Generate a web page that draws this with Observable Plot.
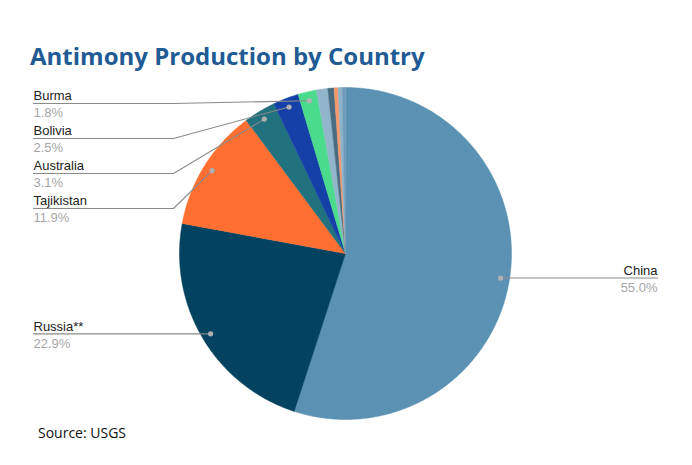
<!DOCTYPE html>
<html><head><meta charset="utf-8">
<script src="https://cdn.jsdelivr.net/npm/d3@7"></script>
<script src="https://cdn.jsdelivr.net/npm/@observablehq/plot@0.6"></script>
<style>
html,body{margin:0;padding:0;background:#fff;}
#title{height:75px;box-sizing:border-box;padding:41px 0 0 30px;font:700 24px/30px "Open Sans";color:#1f5b94;white-space:nowrap;}
#chart svg{display:block;}
#caption{height:45px;box-sizing:border-box;padding:3px 0 0 38px;font:14px/20px "Open Sans";color:#111;}
</style></head><body>
<div id="title">Antimony Production by Country</div>
<div id="chart"></div>
<div id="caption">Source: USGS</div>
<script>
// Data
const countries = ["China","Russia**","Tajikistan","Australia","Bolivia","Burma","Turkey","Iran","Mexico","Vietnam","Other"];
const shares = [55.0, 22.9, 11.9, 3.1, 2.5, 1.8, 1.1, 0.6, 0.4, 0.4, 0.3];
const colors = ["#5b92b3","#03435f","#ff6f31","#22717e","#1440a8","#4bdb8d","#93b5cb","#4a6c81","#f29a6e","#8cb3cb","#6d9bba"];

// Layout constants (pixels)
const W = 692, H = 345, cx = 345, cy = 178, Rpx = 166;
const total = d3.sum(shares);
const toRad = v => v / total * 2 * Math.PI;

// Slice polygons in data units (radius = 1)
const slicePts = [];
const sliceInfo = [];
let acc = 0;
countries.forEach((c, i) => {
  const a0 = toRad(acc), a1 = toRad(acc + shares[i]);
  acc += shares[i];
  const n = Math.max(2, Math.ceil((a1 - a0) / (Math.PI / 360)));
  slicePts.push({country: c, x: 0, y: 0});
  for (let k = 0; k <= n; k++) {
    const a = a0 + (a1 - a0) * k / n;
    slicePts.push({country: c, x: Math.sin(a), y: Math.cos(a)});
  }
  sliceInfo.push({country: c, share: shares[i], mid: (a0 + a1) / 2});
});

// Labels
const dotR = 157 / Rpx, gap = 35 / Rpx, topY = (cy - 28) / Rpx;
const labelX = 312 / Rpx, elbowX = 172 / Rpx;
const labeled = sliceInfo.filter(d => d.share >= 1.5).map(d => ({
  ...d,
  dx: dotR * Math.sin(d.mid),
  dy: dotR * Math.cos(d.mid),
  side: d.mid < Math.PI ? "right" : "left"
}));
const left = labeled.filter(d => d.side === "left").sort((a, b) => b.dy - a.dy);
let prev = topY + gap;
left.forEach(d => { d.ly = Math.min(d.dy, prev - gap); prev = d.ly; d.lx = -labelX; });
const right = labeled.filter(d => d.side === "right");
right.forEach(d => { d.ly = d.dy; d.lx = labelX; });

const leader = [];
labeled.forEach(d => {
  leader.push({id: d.country, x: d.dx, y: d.dy});
  if (d.side === "left") leader.push({id: d.country, x: -elbowX, y: d.ly});
  leader.push({id: d.country, x: d.lx, y: d.ly});
});
const pct = d => d.share.toFixed(1) + "%";
const font = "Liberation Sans, Arial, sans-serif";

const chart = Plot.plot({
  width: W, height: H, margin: 0,
  x: {domain: [-cx / Rpx, (W - cx) / Rpx], axis: null},
  y: {domain: [-(H - cy) / Rpx, cy / Rpx], axis: null},
  color: {domain: countries, range: colors},
  style: {background: "#fff"},
  marks: [
    Plot.line(slicePts, {x: "x", y: "y", z: "country", fill: "country", stroke: "country", strokeWidth: 0.5, curve: "linear-closed"}),
    Plot.line(leader, {x: "x", y: "y", z: "id", stroke: "#8a8a8a", strokeWidth: 1.1, curve: "linear"}),
    Plot.dot(labeled, {x: "dx", y: "dy", r: 2.6, fill: "#b0b0b0"}),
    Plot.text(left, {x: "lx", y: "ly", text: "country", textAnchor: "start", dy: -7.5, fontSize: 13, fill: "#222", fontFamily: font}),
    Plot.text(left, {x: "lx", y: "ly", text: pct, textAnchor: "start", dy: 9.8, fontSize: 13, fill: "#a6a6a6", fontFamily: font}),
    Plot.text(right, {x: "lx", y: "ly", text: "country", textAnchor: "end", dy: -7.5, fontSize: 13, fill: "#222", fontFamily: font}),
    Plot.text(right, {x: "lx", y: "ly", text: pct, textAnchor: "end", dy: 9.8, fontSize: 13, fill: "#a6a6a6", fontFamily: font})
  ]
});
document.getElementById("chart").appendChild(chart);
</script>
</body></html>
